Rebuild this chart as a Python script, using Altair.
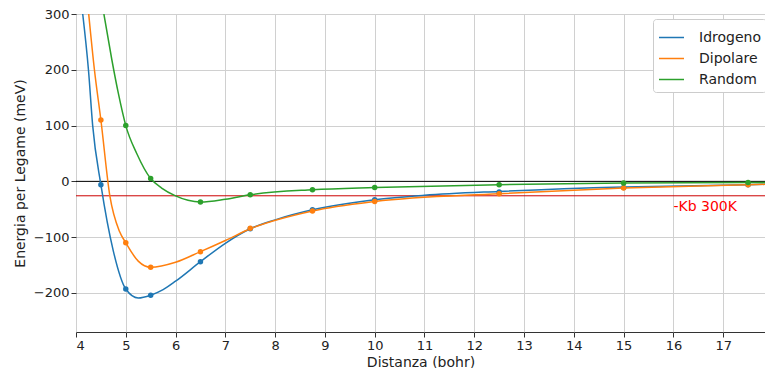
import altair as alt
import pandas as pd

series = ["Idrogeno", "Dipolare", "Random"]
colors = ["#1f77b4", "#ff7f0e", "#2ca02c"]

# sampled points (markers)
pt_x_idro = [4.5, 5.0, 5.5, 6.5, 7.5, 8.75, 10, 12.5, 15, 17.5]
pt_y_idro = [-6, -193, -204, -144, -85, -51, -33, -19, -11, -6]
pt_x_dip = [4.5, 5.0, 5.5, 6.5, 7.5, 8.75, 10, 12.5, 15, 17.5]
pt_y_dip = [110, -110, -154, -126, -84, -53, -36, -22, -12, -6]
pt_x_rand = [5.0, 5.5, 6.5, 7.5, 8.75, 10, 12.5, 15, 17.5]
pt_y_rand = [100, 5, -37, -24, -15, -11, -6, -3, -2]

# fitted curves
cx_idro = [4.135, 4.25, 4.335, 4.5, 4.75, 5.0, 5.25, 5.5, 5.75, 6.0, 6.5, 7.0, 7.5, 8.0, 8.75, 10, 11, 12.5, 15, 17.5, 18]
cy_idro = [300, 200, 100, -6, -125, -193, -209, -204, -194, -179, -144, -111, -85, -69, -51, -33, -25, -18, -10, -6, -5]
cx_dip = [4.255, 4.37, 4.5, 4.68, 4.875, 5.0, 5.25, 5.5, 6.0, 6.5, 7.0, 7.5, 8.75, 10, 12.5, 15, 17.5, 18]
cy_dip = [300, 200, 110, -26, -90, -110, -143, -154, -145, -126, -106, -85, -53, -36, -22, -12, -6, -5]
cx_rand = [4.56, 4.72, 4.85, 5.0, 5.22, 5.5, 5.72, 6.0, 6.25, 6.5, 7.0, 7.5, 8.75, 10, 12.5, 15, 17.5, 18]
cy_rand = [300, 218, 158, 100, 50, 5, -12, -26, -34, -37, -32, -24, -15, -11, -6, -3, -2, -2]

kb300 = -25.85
x_ticks = list(range(4, 18))
y_ticks = [-200, -100, 0, 100, 200, 300]
x_domain = [4, 17.84]
y_domain = [-270, 300]

curves = pd.concat([
    pd.DataFrame({"x": cx_idro, "y": cy_idro, "s": "Idrogeno"}),
    pd.DataFrame({"x": cx_dip, "y": cy_dip, "s": "Dipolare"}),
    pd.DataFrame({"x": cx_rand, "y": cy_rand, "s": "Random"}),
])
points = pd.concat([
    pd.DataFrame({"x": pt_x_idro, "y": pt_y_idro, "s": "Idrogeno"}),
    pd.DataFrame({"x": pt_x_dip, "y": pt_y_dip, "s": "Dipolare"}),
    pd.DataFrame({"x": pt_x_rand, "y": pt_y_rand, "s": "Random"}),
])

xs = alt.Scale(domain=x_domain, nice=False, zero=False)
ys = alt.Scale(domain=y_domain, nice=False, zero=False)
cs = alt.Scale(domain=series, range=colors)

xax = alt.Axis(values=x_ticks, title="Distanza (bohr)", format="d", titlePadding=3)
yax = alt.Axis(values=y_ticks, title="Energia per Legame (meV)")

base_x = alt.X("x:Q", scale=xs, axis=xax)
base_y = alt.Y("y:Q", scale=ys, axis=yax)

lines = alt.Chart(curves).mark_line(strokeWidth=1.5, interpolate="monotone", clip=True).encode(
    x=base_x, y=base_y,
    color=alt.Color("s:N", scale=cs, sort=series,
                    legend=alt.Legend(title=None, orient="none", legendX=577, legendY=5,
                                      symbolType="stroke", symbolStrokeWidth=1.5,
                                      labelFontSize=14, symbolSize=625,
                                      fillColor="white", strokeColor="#cccccc",
                                      padding=5, cornerRadius=3, rowPadding=0,
                                      labelOffset=14,
                                      labelFont="DejaVu Sans", labelColor="#222")),
    order=alt.Order("x:Q"),
)
pts = alt.Chart(points).mark_circle(size=30, opacity=1, clip=True).encode(
    x=base_x, y=base_y,
    color=alt.Color("s:N", scale=cs, sort=series, legend=None),
)

rules = pd.DataFrame({"y": [0, kb300], "c": ["black", "#cc0000"]})
hlines = alt.Chart(rules).mark_rule(strokeWidth=1).encode(
    y=alt.Y("y:Q", scale=ys),
    color=alt.Color("c:N", scale=None),
)
label = alt.Chart(pd.DataFrame({"x": [16.0], "y": [-53], "t": ["-Kb 300K"]})).mark_text(
    color="red", fontSize=14, align="left", baseline="alphabetic", font="DejaVu Sans"
).encode(x=alt.X("x:Q", scale=xs), y=alt.Y("y:Q", scale=ys), text="t:N")

chart = alt.layer(hlines, lines, pts, label).properties(
    width=689, height=318,
    padding={"left": 68, "top": 6, "right": 0, "bottom": 36},
    autosize="none",
).configure_axis(
    grid=True, gridColor="#d0d0d0", gridWidth=1,
    domain=False, tickColor="#333", tickSize=5,
    labelFontSize=13, titleFontSize=14, labelFont="DejaVu Sans", titleFont="DejaVu Sans",
    labelColor="#222", titleColor="#222", titleFontWeight="normal",
).configure_axisY(titlePadding=6).configure_view(
    stroke="#333", strokeWidth=1
)

chart.save("out.html", embed_options={"renderer": "svg", "actions": False})
